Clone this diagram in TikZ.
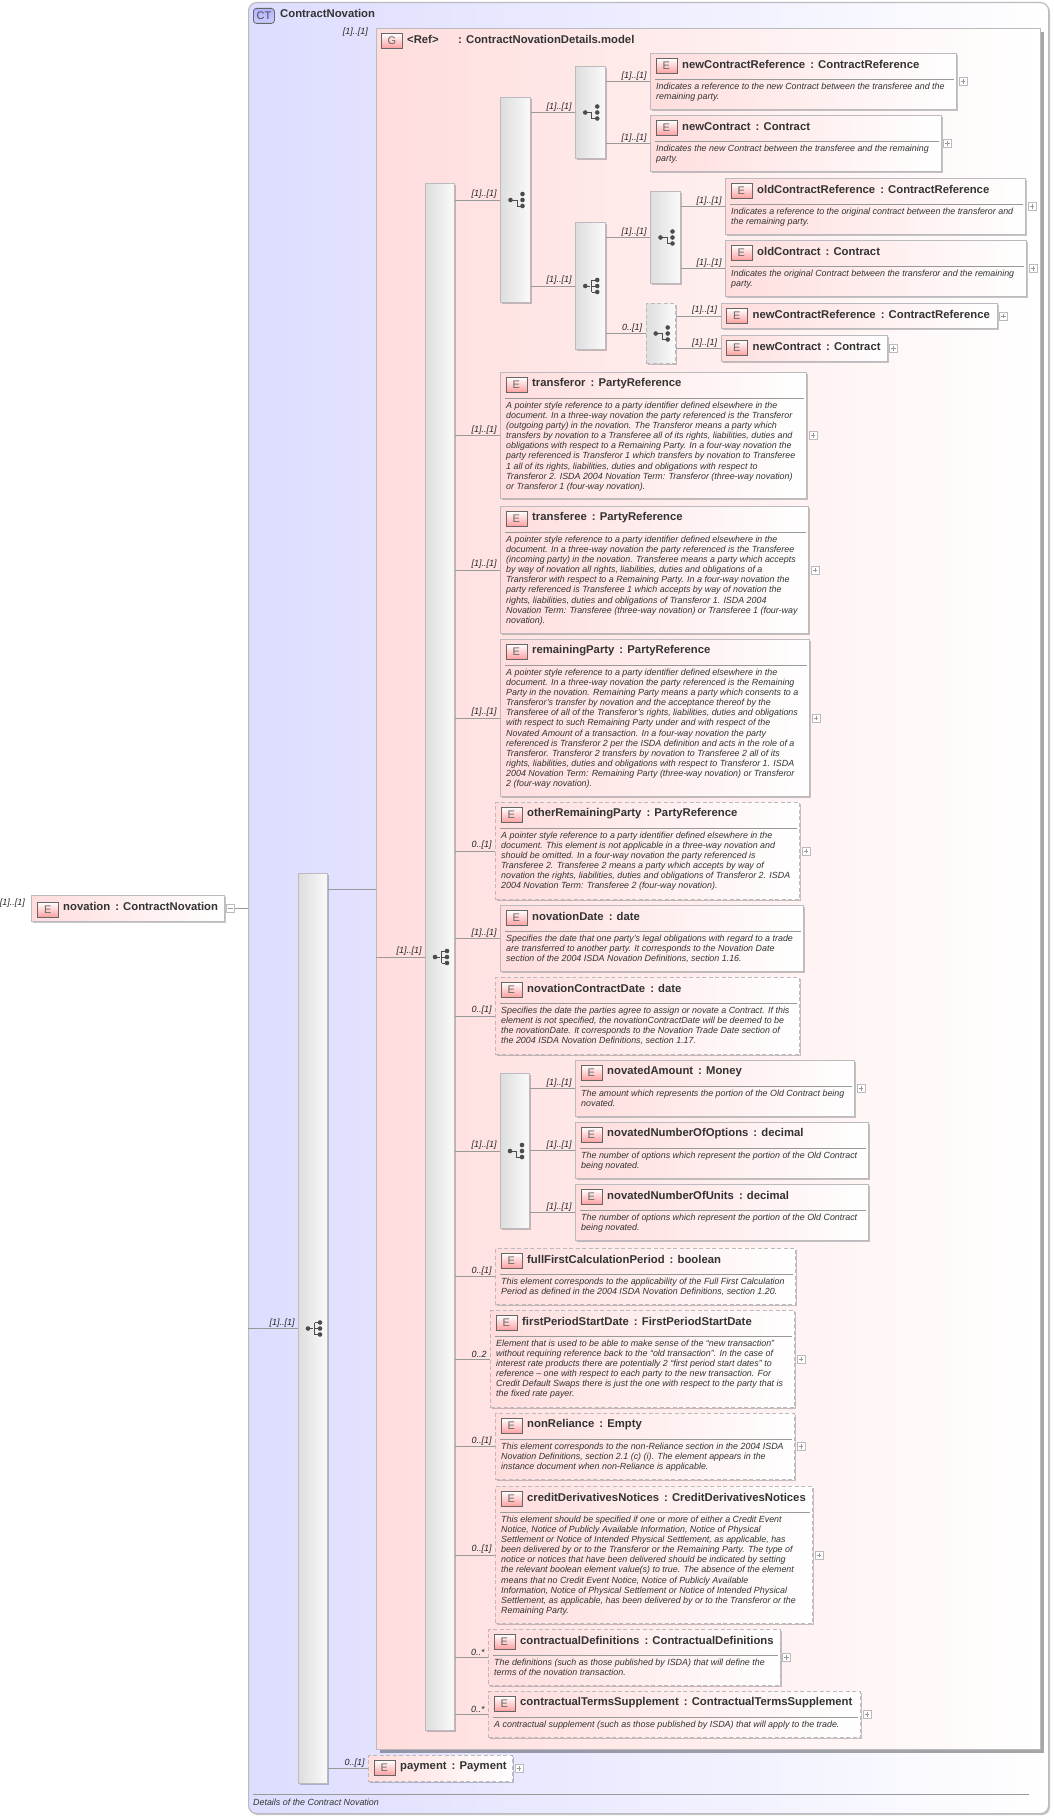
\documentclass[tikz,border=0pt]{standalone}
\usepackage{fontspec}
\setmainfont{Liberation Sans}
\usetikzlibrary{calc,shadows}
\definecolor{boxgray}{rgb}{0.73,0.73,0.75}
\definecolor{linegray}{rgb}{0.6,0.6,0.6}
\definecolor{textgray}{rgb}{0.2,0.2,0.2}
\definecolor{typeblue}{rgb}{0.866,0.866,1.0}
\definecolor{groupred}{rgb}{1.0,0.866,0.866}
\tikzset{
  softshadow/.style={drop shadow={shadow xshift=1.5pt,shadow yshift=-1.5pt,fill=black,opacity=0.22}},
  typebox/.style={draw=boxgray,line width=1.2pt,rounded corners=8pt,anchor=north west,inner sep=0pt,left color=typeblue,right color=white,softshadow},
  groupbox/.style={draw=boxgray,line width=1.2pt,anchor=north west,inner sep=0pt,left color=groupred,right color=white,drop shadow={shadow xshift=3pt,shadow yshift=-3pt,fill=black,opacity=0.35}},
  elembox/.style={draw=boxgray,line width=1.2pt,anchor=north west,inner sep=0pt,left color=groupred,right color=white,softshadow},
  barbox/.style={draw=boxgray,line width=1pt,anchor=north west,inner sep=0pt,left color=black!13,right color=black!2,softshadow},
  optional/.style={dashed,dash pattern=on 4pt off 2.5pt},
  iconbox/.style={draw=black!60,line width=0.8pt,anchor=north west,inner sep=0pt,minimum width=21pt,minimum height=15pt,top color=white,bottom color=red!38,text=black!60,font=\fontsize{11}{11}\selectfont},
  ctbox/.style={iconbox,rounded corners=3pt,top color=blue!30,bottom color=blue!20,text=black!70},
  elemtitle/.style={anchor=west,inner sep=0pt,text=textgray,font=\bfseries\fontsize{11.3}{12}\selectfont},
  elemnote/.style={anchor=north west,inner sep=0pt,align=left,text=textgray,font=\itshape\fontsize{8.9}{10.15}\selectfont},
  noterule/.style={draw=black!40,line width=0.7pt},
  expandbox/.style={draw=boxgray,fill=white,anchor=west,inner sep=0pt,minimum size=8pt,line width=0.7pt},
  conn/.style={draw=linegray,line width=0.8pt},
  occ/.style={anchor=south east,xshift=-3pt,yshift=1.2pt,inner sep=0pt,text=black!85,font=\itshape\fontsize{9}{10}\selectfont},
  icondot/.style={fill=black!70},
  iconline/.style={draw=black!70,line width=0.8pt}
}
% box with the E icon and the title
\newcommand{\element}[7]{%
  \node[elembox,#2,minimum width=#5,minimum height=#6] (#1) at (#3,#4) {};
  \node[iconbox] (#1Icon) at ([xshift=5.5pt,yshift=-5pt]#1.north west) {E};
  \node[elemtitle] (#1Title) at ([xshift=32pt,yshift=-11.8pt]#1.north west) {#7};
}
% rule and description below the title
\newcommand{\elemnotes}[2]{%
  \draw[noterule] ([xshift=5pt,yshift=-26pt]#1.north west) -- ([xshift=-3pt,yshift=-26pt]#1.north east);
  \node[elemnote] (#1Text) at ([xshift=6pt,yshift=-29.5pt]#1.north west) {#2};
}
\newcommand{\seqicon}[1]{%
  \foreach \dy in {-6,0,6}{\fill[icondot] ([xshift=7pt,yshift=\dy pt]#1.center) circle (2.3pt);
    \draw[iconline] ([xshift=1.5pt,yshift=\dy pt]#1.center) -- ([xshift=7pt,yshift=\dy pt]#1.center);}
  \fill[icondot] ([xshift=-5pt]#1.center) circle (2.3pt);
  \draw[iconline] ([xshift=-5pt]#1.center) -- (#1.center) ([xshift=1.5pt,yshift=6pt]#1.center) -- ([xshift=1.5pt,yshift=-6pt]#1.center);
}
\newcommand{\altericon}[1]{%
  \foreach \dy in {-6,0,6}{\fill[icondot] ([xshift=7pt,yshift=\dy pt]#1.center) circle (2.3pt);}
  \fill[icondot] ([xshift=-5pt]#1.center) circle (2.3pt);
  \draw[iconline] ([xshift=-5pt]#1.center) -- ([xshift=1.5pt]#1.center) -- ([xshift=1.5pt,yshift=-6pt]#1.center) -- ([xshift=7pt,yshift=-6pt]#1.center);
}
\begin{document}
\begin{tikzpicture}[x=1pt,y=-1pt]
    \useasboundingbox (0,0) rectangle (1053,1817);

    \node[typebox,minimum width=800,minimum height=1811] (ContractType) at (248,2) {};
    \node[ctbox] (ContractTypeIcon) at (253,8) {CT};
    \node[elemtitle] (ContractTypeTitle) at (280,13) {ContractNovation};
    \draw[noterule] (253,1794) coordinate (FootLeft) -- (1029,1794) coordinate (FootRight);
    \node[elemnote,anchor=west] (ContractTypeText) at (FootLeft |- 0,1802) {Details of the Contract Novation};

    \node[elembox,minimum width=193,minimum height=26] (Novation) at (31,895) {};
    \node[iconbox] (NovationIcon) at (37,902) {E};
    \node[elemtitle] (NovationTitle) at (63,906) {novation\, : ContractNovation};
    \node[occ,anchor=south east,xshift=-3pt,yshift=0pt] (NovationOcc) at (Novation.west) {[1]..[1]};
    \node[expandbox] (NovationMinus) at ([xshift=1pt]Novation.east) {};
    \draw[linegray,line width=0.6pt] ([xshift=2pt]NovationMinus.west) -- ([xshift=-2pt]NovationMinus.east);
    \draw[conn] (NovationMinus.east) -- (NovationMinus.east -| ContractType.west);

    \node[barbox,minimum width=29,minimum height=910] (OuterSeq) at (298,873) {};
    \node[groupbox,minimum width=664,minimum height=1721] (ModelGroup) at (376,28) {};
    \node[iconbox] (ModelGroupIcon) at (381,33) {G};
    \node[elemtitle] (ModelGroupRef) at (407,39) {<Ref>};
    \node[elemtitle] (ModelGroupTitle) at (458,39) {: ContractNovationDetails.model};
    \node[occ,anchor=north east,xshift=-5pt,yshift=-1pt] (ModelGroupOcc) at (ModelGroup.north west) {[1]..[1]};

    \node[barbox,minimum width=29,minimum height=1547] (MainSeq) at (425,183) {};
    \node[barbox,minimum width=30,minimum height=205] (TopAlt) at (500,97) {};
    \node[barbox,minimum width=29.5,minimum height=92] (NewAlt) at (575,66) {};
    \node[barbox,minimum width=29.5,minimum height=127] (OldSeq) at (575,222) {};
    \node[barbox,minimum width=30,minimum height=92] (OldAlt) at (650,191) {};
    \node[barbox,optional,minimum width=29.5,minimum height=60] (BothAlt) at (645.5,303) {};
    \node[barbox,minimum width=29,minimum height=155] (AmountAlt) at (500,1073) {};

    \foreach \b in {OuterSeq,MainSeq,OldSeq}{\seqicon{\b}}
    \foreach \b in {TopAlt,NewAlt,OldAlt,BothAlt,AmountAlt}{\altericon{\b}}

    \element{NewContractRef}{}{650}{53}{306}{56}{newContractReference\, : ContractReference}
    \elemnotes{NewContractRef}{Indicates a reference to the new Contract between the transferee and the\\remaining party.}
    \element{NewContract}{}{650}{115}{290.5}{56}{newContract\, : Contract}
    \elemnotes{NewContract}{Indicates the new Contract between the transferee and the remaining\\party.}
    \element{OldContractRef}{}{725}{178}{300}{56}{oldContractReference\, : ContractReference}
    \elemnotes{OldContractRef}{Indicates a reference to the original contract between the transferor and\\the remaining party.}
    \element{OldContract}{}{725}{240}{301}{56}{oldContract\, : Contract}
    \elemnotes{OldContract}{Indicates the original Contract between the transferor and the remaining\\party.}
    \element{BothContractRef}{}{720.5}{303}{276}{25}{newContractReference\, : ContractReference}
    \element{BothContract}{}{720.5}{335}{166}{26}{newContract\, : Contract}

    \element{Transferor}{}{500}{372}{306}{126}{transferor\, : PartyReference}
    \elemnotes{Transferor}{A pointer style reference to a party identifier defined elsewhere in the\\document. In a three-way novation the party referenced is the Transferor\\(outgoing party) in the novation. The Transferor means a party which\\transfers by novation to a Transferee all of its rights, liabilities, duties and\\obligations with respect to a Remaining Party. In a four-way novation the\\party referenced is Transferor 1 which transfers by novation to Transferee\\1 all of its rights, liabilities, duties and obligations with respect to\\Transferor 2. ISDA 2004 Novation Term: Transferor (three-way novation)\\or Transferor 1 (four-way novation).}
    \element{Transferee}{}{500}{506}{308}{127}{transferee\, : PartyReference}
    \elemnotes{Transferee}{A pointer style reference to a party identifier defined elsewhere in the\\document. In a three-way novation the party referenced is the Transferee\\(incoming party) in the novation. Transferee means a party which accepts\\by way of novation all rights, liabilities, duties and obligations of a\\Transferor with respect to a Remaining Party. In a four-way novation the\\party referenced is Transferee 1 which accepts by way of novation the\\rights, liabilities, duties and obligations of Transferor 1. ISDA 2004\\Novation Term: Transferee (three-way novation) or Transferee 1 (four-way\\novation).}
    \element{RemainingParty}{}{500}{639}{309}{157}{remainingParty\, : PartyReference}
    \elemnotes{RemainingParty}{A pointer style reference to a party identifier defined elsewhere in the\\document. In a three-way novation the party referenced is the Remaining\\Party in the novation. Remaining Party means a party which consents to a\\Transferor's transfer by novation and the acceptance thereof by the\\Transferee of all of the Transferor's rights, liabilities, duties and obligations\\with respect to such Remaining Party under and with respect of the\\Novated Amount of a transaction. In a four-way novation the party\\referenced is Transferor 2 per the ISDA definition and acts in the role of a\\Transferor. Transferor 2 transfers by novation to Transferee 2 all of its\\rights, liabilities, duties and obligations with respect to Transferor 1. ISDA\\2004 Novation Term: Remaining Party (three-way novation) or Transferor\\2 (four-way novation).}
    \element{OtherParty}{optional}{495}{802}{304}{97}{otherRemainingParty\, : PartyReference}
    \elemnotes{OtherParty}{A pointer style reference to a party identifier defined elsewhere in the\\document. This element is not applicable in a three-way novation and\\should be omitted. In a four-way novation the party referenced is\\Transferee 2. Transferee 2 means a party which accepts by way of\\novation the rights, liabilities, duties and obligations of Transferor 2. ISDA\\2004 Novation Term: Transferee 2 (four-way novation).}
    \element{NovationDate}{}{500}{905}{303}{66}{novationDate\, : date}
    \elemnotes{NovationDate}{Specifies the date that one party's legal obligations with regard to a trade\\are transferred to another party. It corresponds to the Novation Date\\section of the 2004 ISDA Novation Definitions, section 1.16.}
    \element{ContractDate}{optional}{495}{977}{304}{77}{novationContractDate\, : date}
    \elemnotes{ContractDate}{Specifies the date the parties agree to assign or novate a Contract. If this\\element is not specified, the novationContractDate will be deemed to be\\the novationDate. It corresponds to the Novation Trade Date section of\\the 2004 ISDA Novation Definitions, section 1.17.}

    \element{NovatedAmount}{}{575}{1060}{279}{56}{novatedAmount\, : Money}
    \elemnotes{NovatedAmount}{The amount which represents the portion of the Old Contract being\\novated.}
    \element{NovatedOptions}{}{575}{1122}{293}{56}{novatedNumberOfOptions\, : decimal}
    \elemnotes{NovatedOptions}{The number of options which represent the portion of the Old Contract\\being novated.}
    \element{NovatedUnits}{}{575}{1184}{293}{56}{novatedNumberOfUnits\, : decimal}
    \elemnotes{NovatedUnits}{The number of options which represent the portion of the Old Contract\\being novated.}

    \element{FullFirst}{optional}{495}{1248}{300}{56}{fullFirstCalculationPeriod\, : boolean}
    \elemnotes{FullFirst}{This element corresponds to the applicability of the Full First Calculation\\Period as defined in the 2004 ISDA Novation Definitions, section 1.20.}
    \element{FirstPeriod}{optional}{490}{1310}{304}{97}{firstPeriodStartDate\, : FirstPeriodStartDate}
    \elemnotes{FirstPeriod}{Element that is used to be able to make sense of the ``new transaction''\\without requiring reference back to the ``old transaction''. In the case of\\interest rate products there are potentially 2 ``first period start dates'' to\\reference -- one with respect to each party to the new transaction. For\\Credit Default Swaps there is just the one with respect to the party that is\\the fixed rate payer.}
    \element{NonReliance}{optional}{495}{1413}{299}{66}{nonReliance\, : Empty}
    \elemnotes{NonReliance}{This element corresponds to the non-Reliance section in the 2004 ISDA\\Novation Definitions, section 2.1 (c) (i). The element appears in the\\instance document when non-Reliance is applicable.}
    \element{CreditNotices}{optional}{495}{1486}{317}{137}{creditDerivativesNotices\, : CreditDerivativesNotices}
    \elemnotes{CreditNotices}{This element should be specified if one or more of either a Credit Event\\Notice, Notice of Publicly Available Information, Notice of Physical\\Settlement or Notice of Intended Physical Settlement, as applicable, has\\been delivered by or to the Transferor or the Remaining Party. The type of\\notice or notices that have been delivered should be indicated by setting\\the relevant boolean element value(s) to true. The absence of the element\\means that no Credit Event Notice, Notice of Publicly Available\\Information, Notice of Physical Settlement or Notice of Intended Physical\\Settlement, as applicable, has been delivered by or to the Transferor or the\\Remaining Party.}
    \element{Definitions}{optional}{488}{1629}{291.5}{56}{contractualDefinitions\, : ContractualDefinitions}
    \elemnotes{Definitions}{The definitions (such as those published by ISDA) that will define the\\terms of the novation transaction.}
    \element{TermsSupplement}{optional}{488}{1691}{372}{46}{contractualTermsSupplement\, : ContractualTermsSupplement}
    \elemnotes{TermsSupplement}{A contractual supplement (such as those published by ISDA) that will apply to the trade.}
    \element{Payment}{optional}{368}{1755}{144}{26}{payment\, : Payment}

    % the little expand marks on the right of a box
    \foreach \e in {NewContractRef,NewContract,OldContractRef,OldContract,BothContractRef,BothContract,Transferor,Transferee,RemainingParty,OtherParty,NovatedAmount,FirstPeriod,NonReliance,CreditNotices,Definitions,TermsSupplement,Payment}{
      \node[expandbox] (\e Plus) at ([xshift=1.5pt]\e.east) {};
      \draw[linegray,line width=0.6pt] ([xshift=2pt]\e Plus.west) -- ([xshift=-2pt]\e Plus.east) ([yshift=2pt]\e Plus.south) -- ([yshift=-2pt]\e Plus.north);
    }

    \foreach \from/\to/\o in {MainSeq/TopAlt/{[1]..[1]},TopAlt/NewAlt/{[1]..[1]},TopAlt/OldSeq/{[1]..[1]},NewAlt/NewContractRef/{[1]..[1]},NewAlt/NewContract/{[1]..[1]},OldSeq/OldAlt/{[1]..[1]},OldSeq/BothAlt/{0..[1]},OldAlt/OldContractRef/{[1]..[1]},OldAlt/OldContract/{[1]..[1]},BothAlt/BothContractRef/{[1]..[1]},BothAlt/BothContract/{[1]..[1]},MainSeq/Transferor/{[1]..[1]},MainSeq/Transferee/{[1]..[1]},MainSeq/RemainingParty/{[1]..[1]},MainSeq/OtherParty/{0..[1]},MainSeq/NovationDate/{[1]..[1]},MainSeq/ContractDate/{0..[1]},MainSeq/AmountAlt/{[1]..[1]},AmountAlt/NovatedAmount/{[1]..[1]},AmountAlt/NovatedOptions/{[1]..[1]},AmountAlt/NovatedUnits/{[1]..[1]},MainSeq/FullFirst/{0..[1]},MainSeq/FirstPeriod/{0..2},MainSeq/NonReliance/{0..[1]},MainSeq/CreditNotices/{0..[1]},MainSeq/Definitions/{0..*},MainSeq/TermsSupplement/{0..*},OuterSeq/Payment/{0..[1]}}{
      \draw[conn] (\from.east |- \to.west) -- (\to.west) node[occ] (\to Occ) {\o};
    }
    \draw[conn] (ContractType.west |- OuterSeq.west) -- (OuterSeq.west) node[occ] (OuterSeqOcc) {[1]..[1]};
    \draw[conn] (ModelGroup.west |- MainSeq.west) -- (MainSeq.west) node[occ] (MainSeqOcc) {[1]..[1]};
    \draw[conn] (OuterSeq.east |- ModelGroup.west) -- (ModelGroup.west);

    \end{tikzpicture}
\end{document}
